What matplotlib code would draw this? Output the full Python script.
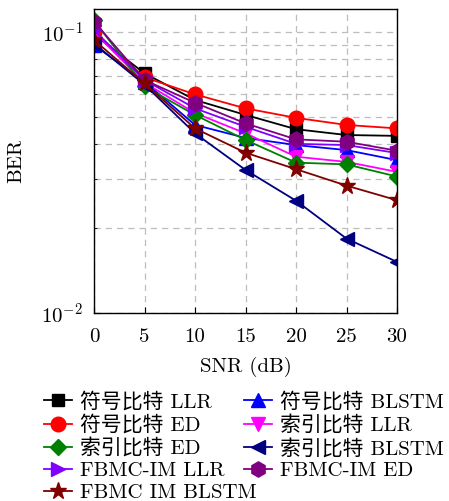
import matplotlib
matplotlib.use("Agg")
import matplotlib.pyplot as plt
import numpy as np

plt.rcParams['font.family'] = ['cmr10', 'Noto Sans CJK SC', 'DejaVu Sans']
plt.rcParams['mathtext.fontset'] = 'cm'
plt.rcParams['axes.formatter.use_mathtext'] = True
plt.rcParams['axes.unicode_minus'] = True

snr = [0, 5, 10, 15, 20, 25, 30]

sym_llr = [0.098, 0.0713, 0.0573, 0.0507, 0.0451, 0.0430, 0.0427]
sym_blstm = [0.0899, 0.0665, 0.0467, 0.0420, 0.0396, 0.0380, 0.0350]
sym_ed = [0.100, 0.069, 0.0600, 0.0535, 0.0495, 0.0467, 0.0454]
idx_llr = [0.100, 0.066, 0.0515, 0.0436, 0.0360, 0.0345, 0.0318]
idx_ed = [0.110, 0.064, 0.0507, 0.0413, 0.0343, 0.0338, 0.0306]
idx_blstm = [0.091, 0.065, 0.0436, 0.0323, 0.0251, 0.0184, 0.0152]
fb_llr = [0.1016, 0.0675, 0.0535, 0.0460, 0.0400, 0.0396, 0.0371]
fb_ed = [0.109, 0.0675, 0.0560, 0.0473, 0.0415, 0.0407, 0.0378]
fb_blstm = [0.0937, 0.0656, 0.0454, 0.0372, 0.0325, 0.0284, 0.0252]

series = [
    ("符号比特 LLR", sym_llr, 'black', 's', 8.5),
    ("符号比特 BLSTM", sym_blstm, 'blue', '^', 10),
    ("符号比特 ED", sym_ed, 'red', 'o', 10.5),
    ("索引比特 LLR", idx_llr, 'magenta', 'v', 10),
    ("索引比特 ED", idx_ed, 'green', 'D', 8.5),
    ("索引比特 BLSTM", idx_blstm, '#000080', '<', 10),
    ("FBMC-IM LLR", fb_llr, '#8000ff', '>', 10),
    ("FBMC-IM ED", fb_ed, '#800080', 'h', 11),
    ("FBMC IM BLSTM", fb_blstm, '#800000', '*', 12.5),
]

FS = 15

fig = plt.figure(figsize=(4.49, 5.01), dpi=100)
ax = fig.add_axes([94/449, 1-313/501, (397-94)/449, (313-9)/501])

handles = {}
for name, vals, col, mk, ms in series:
    h, = ax.plot(snr, vals, color=col, marker=mk, markersize=ms, linewidth=1.3,
                 markeredgecolor=col, markerfacecolor=col, label=name)
    handles[name] = h

ax.set_yscale('log')
ax.set_xlim(0, 30)
ax.set_ylim(0.01, 10**-0.918)
ax.set_xticks(snr)
ax.set_xticklabels([str(s) for s in snr])
ax.grid(True, which='both', axis='y', color='#bdbdbd', linestyle=(0, (5, 4)), linewidth=0.9)
ax.grid(True, which='major', axis='x', color='#bdbdbd', linestyle=(0, (5, 4)), linewidth=0.9)
ax.set_axisbelow(True)
ax.tick_params(axis='both', which='both', direction='in', labelsize=FS)
ax.tick_params(axis='y', which='minor', length=2, labelleft=False)
ax.tick_params(axis='both', which='major', length=4)
ax.tick_params(axis='x', which='major', pad=11)
ax.tick_params(axis='y', which='major', pad=8)
for sp in ax.spines.values():
    sp.set_linewidth(1.0)

ax.set_xlabel("SNR (dB)", fontsize=FS)
ax.set_ylabel("BER", fontsize=FS)
ax.xaxis.set_label_coords(0.5, (313-367)/304)
ax.xaxis.label.set_verticalalignment('center')
ax.yaxis.set_label_coords((16-94)/303, 0.5)
ax.yaxis.label.set_verticalalignment('center')

col1 = ["符号比特 LLR", "符号比特 ED", "索引比特 ED", "FBMC-IM LLR", "FBMC IM BLSTM"]
col2 = ["符号比特 BLSTM", "索引比特 LLR", "索引比特 BLSTM", "FBMC-IM ED"]
common = dict(loc='upper left', frameon=False, fontsize=FS, handlelength=1.35,
              handletextpad=0.4, labelspacing=0.16, borderpad=0.0, borderaxespad=0.0)
leg1 = fig.legend([handles[n] for n in col1], col1,
                  bbox_to_anchor=(44/449, 1-392/501), **common)
leg2 = fig.legend([handles[n] for n in col2], col2,
                  bbox_to_anchor=(244/449, 1-392/501), **common)

fig.savefig("out.png", dpi=100)
